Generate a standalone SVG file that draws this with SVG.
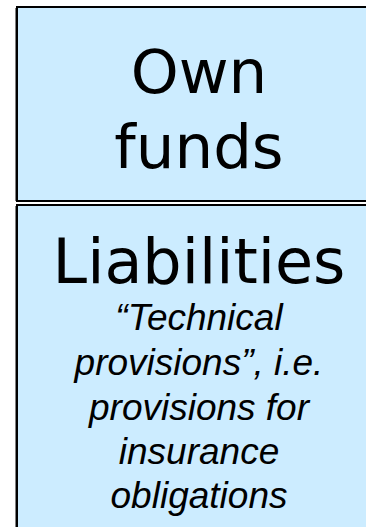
<svg xmlns="http://www.w3.org/2000/svg" width="366" height="527" viewBox="0 0 366 527">
<style>
.box{fill:#CCECFF;stroke:#000;stroke-width:2}
.shadow{fill:none;stroke:#808080;stroke-width:1}
.big{font-family:"DejaVu Sans",Verdana,sans-serif;font-size:61px;fill:#000;text-anchor:middle}
.small{font-family:"Liberation Sans",Arial,sans-serif;font-style:italic;font-size:37px;fill:#000;text-anchor:middle}
</style>
<rect width="366" height="527" fill="#fff"/>
<g id="own-funds">
<rect class="box" x="17" y="7" width="380" height="194"/>
<line class="shadow" x1="15.5" y1="8" x2="15.5" y2="201"/>
<text class="big" x="199" y="93">Own</text>
<text class="big" x="199" y="168">funds</text>
</g>
<g id="liabilities">
<rect class="box" x="17" y="205" width="380" height="340"/>
<line class="shadow" x1="15.5" y1="206" x2="15.5" y2="527"/>
<text class="big" x="199" y="283" style="font-size:62px">Liabilities</text>
<text class="small" x="199" y="330">“Technical</text>
<text class="small" x="199" y="375">provisions”, i.e.</text>
<text class="small" x="199" y="420">provisions for</text>
<text class="small" x="199" y="464">insurance</text>
<text class="small" x="199" y="508">obligations</text>
</g>
<g id="connectors"/>
</svg>
